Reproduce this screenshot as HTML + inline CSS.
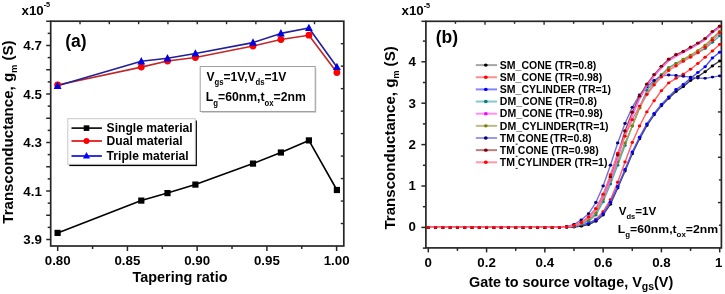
<!DOCTYPE html>
<html><head><meta charset="utf-8"><style>
html,body{margin:0;padding:0;background:#fff;width:725px;height:294px;overflow:hidden}
svg{display:block;filter:blur(0.3px)}
text{font-family:"Liberation Sans", sans-serif;font-weight:bold;fill:#000}
.tl{font-size:13.3px}
.ti{font-size:14.4px}
.tiy{font-size:15.1px}
.sub{font-size:9px}
.sup{font-size:7.3px}
.subx{font-size:10.5px}
.lab{font-size:17.5px}
.lg{font-size:12.1px}
.lgb{font-size:10.5px}
.an{font-size:13px}
.asub{font-size:8.3px}
.an2{font-size:11.6px}
.asub2{font-size:7.5px}
</style></head>
<body><svg width="725" height="294" viewBox="0 0 725 294">
<rect width="725" height="294" fill="#fff"/>
<rect x="50.7" y="21.2" width="293.1" height="224.8" fill="none" stroke="#262626" stroke-width="1.7"/>
<line x1="46.2" y1="239.50" x2="50.7" y2="239.50" stroke="#262626" stroke-width="1.5"/>
<line x1="47.7" y1="227.38" x2="50.7" y2="227.38" stroke="#262626" stroke-width="1.5"/>
<line x1="46.2" y1="215.25" x2="50.7" y2="215.25" stroke="#262626" stroke-width="1.5"/>
<line x1="47.7" y1="203.13" x2="50.7" y2="203.13" stroke="#262626" stroke-width="1.5"/>
<line x1="46.2" y1="191.00" x2="50.7" y2="191.00" stroke="#262626" stroke-width="1.5"/>
<line x1="47.7" y1="178.87" x2="50.7" y2="178.87" stroke="#262626" stroke-width="1.5"/>
<line x1="46.2" y1="166.75" x2="50.7" y2="166.75" stroke="#262626" stroke-width="1.5"/>
<line x1="47.7" y1="154.62" x2="50.7" y2="154.62" stroke="#262626" stroke-width="1.5"/>
<line x1="46.2" y1="142.50" x2="50.7" y2="142.50" stroke="#262626" stroke-width="1.5"/>
<line x1="47.7" y1="130.38" x2="50.7" y2="130.38" stroke="#262626" stroke-width="1.5"/>
<line x1="46.2" y1="118.25" x2="50.7" y2="118.25" stroke="#262626" stroke-width="1.5"/>
<line x1="47.7" y1="106.12" x2="50.7" y2="106.12" stroke="#262626" stroke-width="1.5"/>
<line x1="46.2" y1="94.00" x2="50.7" y2="94.00" stroke="#262626" stroke-width="1.5"/>
<line x1="47.7" y1="81.88" x2="50.7" y2="81.88" stroke="#262626" stroke-width="1.5"/>
<line x1="46.2" y1="69.75" x2="50.7" y2="69.75" stroke="#262626" stroke-width="1.5"/>
<line x1="47.7" y1="57.62" x2="50.7" y2="57.62" stroke="#262626" stroke-width="1.5"/>
<line x1="46.2" y1="45.50" x2="50.7" y2="45.50" stroke="#262626" stroke-width="1.5"/>
<line x1="47.7" y1="33.38" x2="50.7" y2="33.38" stroke="#262626" stroke-width="1.5"/>
<line x1="46.2" y1="21.25" x2="50.7" y2="21.25" stroke="#262626" stroke-width="1.5"/>
<line x1="57.70" y1="246.0" x2="57.70" y2="251.0" stroke="#262626" stroke-width="1.5"/>
<line x1="92.56" y1="246.0" x2="92.56" y2="249.0" stroke="#262626" stroke-width="1.5"/>
<line x1="127.43" y1="246.0" x2="127.43" y2="251.0" stroke="#262626" stroke-width="1.5"/>
<line x1="162.29" y1="246.0" x2="162.29" y2="249.0" stroke="#262626" stroke-width="1.5"/>
<line x1="197.15" y1="246.0" x2="197.15" y2="251.0" stroke="#262626" stroke-width="1.5"/>
<line x1="232.01" y1="246.0" x2="232.01" y2="249.0" stroke="#262626" stroke-width="1.5"/>
<line x1="266.88" y1="246.0" x2="266.88" y2="251.0" stroke="#262626" stroke-width="1.5"/>
<line x1="301.74" y1="246.0" x2="301.74" y2="249.0" stroke="#262626" stroke-width="1.5"/>
<line x1="336.60" y1="246.0" x2="336.60" y2="251.0" stroke="#262626" stroke-width="1.5"/>
<line x1="80.01" y1="21.2" x2="80.01" y2="24.2" stroke="#262626" stroke-width="1.4"/>
<line x1="109.32" y1="21.2" x2="109.32" y2="24.2" stroke="#262626" stroke-width="1.4"/>
<line x1="138.63" y1="21.2" x2="138.63" y2="24.2" stroke="#262626" stroke-width="1.4"/>
<line x1="167.94" y1="21.2" x2="167.94" y2="24.2" stroke="#262626" stroke-width="1.4"/>
<line x1="197.25" y1="21.2" x2="197.25" y2="24.2" stroke="#262626" stroke-width="1.4"/>
<line x1="226.56" y1="21.2" x2="226.56" y2="24.2" stroke="#262626" stroke-width="1.4"/>
<line x1="255.87" y1="21.2" x2="255.87" y2="24.2" stroke="#262626" stroke-width="1.4"/>
<line x1="285.18" y1="21.2" x2="285.18" y2="24.2" stroke="#262626" stroke-width="1.4"/>
<line x1="314.49" y1="21.2" x2="314.49" y2="24.2" stroke="#262626" stroke-width="1.4"/>
<line x1="340.8" y1="43.68" x2="343.8" y2="43.68" stroke="#262626" stroke-width="1.4"/>
<line x1="340.8" y1="66.16" x2="343.8" y2="66.16" stroke="#262626" stroke-width="1.4"/>
<line x1="340.8" y1="88.64" x2="343.8" y2="88.64" stroke="#262626" stroke-width="1.4"/>
<line x1="340.8" y1="111.12" x2="343.8" y2="111.12" stroke="#262626" stroke-width="1.4"/>
<line x1="340.8" y1="133.60" x2="343.8" y2="133.60" stroke="#262626" stroke-width="1.4"/>
<line x1="340.8" y1="156.08" x2="343.8" y2="156.08" stroke="#262626" stroke-width="1.4"/>
<line x1="340.8" y1="178.56" x2="343.8" y2="178.56" stroke="#262626" stroke-width="1.4"/>
<line x1="340.8" y1="201.04" x2="343.8" y2="201.04" stroke="#262626" stroke-width="1.4"/>
<line x1="340.8" y1="223.52" x2="343.8" y2="223.52" stroke="#262626" stroke-width="1.4"/>
<text x="41.8" y="244.10" text-anchor="end" class="tl">3.9</text>
<text x="41.8" y="195.60" text-anchor="end" class="tl">4.1</text>
<text x="41.8" y="147.10" text-anchor="end" class="tl">4.3</text>
<text x="41.8" y="98.60" text-anchor="end" class="tl">4.5</text>
<text x="41.8" y="50.10" text-anchor="end" class="tl">4.7</text>
<text x="57.70" y="264.5" text-anchor="middle" class="tl">0.80</text>
<text x="127.42" y="264.5" text-anchor="middle" class="tl">0.85</text>
<text x="197.15" y="264.5" text-anchor="middle" class="tl">0.90</text>
<text x="266.87" y="264.5" text-anchor="middle" class="tl">0.95</text>
<text x="336.60" y="264.5" text-anchor="middle" class="tl">1.00</text>
<text x="180" y="282" text-anchor="middle" class="ti">Tapering ratio</text>
<text transform="translate(12.5,132.1) rotate(-90)" text-anchor="middle" class="tiy">Transconductance, g<tspan class="sub" dy="4.5">m</tspan><tspan dy="-4.5"> (S)</tspan></text>
<text x="21.5" y="14.9" class="tl">x10<tspan class="sup" dy="-7.8">-5</tspan></text>
<text x="65.2" y="46.6" class="lab">(a)</text>
<polyline points="57.6,232.9 141.3,200.6 167.5,193.1 195.4,184.6 253.0,163.6 280.9,152.5 308.9,140.4 336.9,190.0" fill="none" stroke="#000" stroke-width="1.6" stroke-linejoin="round"/>
<polyline points="57.6,85.0 141.3,67.1 167.5,61.0 195.4,57.5 253.0,46.0 280.9,39.5 308.9,35.2 336.9,72.5" fill="none" stroke="#c02828" stroke-width="1.6" stroke-linejoin="round"/>
<polyline points="57.6,85.8 141.3,61.3 167.5,58.3 195.4,53.5 253.0,42.6 280.9,33.4 308.9,28.0 336.9,67.0" fill="none" stroke="#20209a" stroke-width="1.6" stroke-linejoin="round"/>
<rect x="54.50" y="229.80" width="6.2" height="6.2" fill="#000"/>
<rect x="138.20" y="197.50" width="6.2" height="6.2" fill="#000"/>
<rect x="164.40" y="190.00" width="6.2" height="6.2" fill="#000"/>
<rect x="192.30" y="181.50" width="6.2" height="6.2" fill="#000"/>
<rect x="249.90" y="160.50" width="6.2" height="6.2" fill="#000"/>
<rect x="277.80" y="149.40" width="6.2" height="6.2" fill="#000"/>
<rect x="305.80" y="137.30" width="6.2" height="6.2" fill="#000"/>
<rect x="333.80" y="186.90" width="6.2" height="6.2" fill="#000"/>
<circle cx="57.60" cy="85.00" r="3.4" fill="#f00"/>
<circle cx="141.30" cy="67.10" r="3.4" fill="#f00"/>
<circle cx="167.50" cy="61.00" r="3.4" fill="#f00"/>
<circle cx="195.40" cy="57.50" r="3.4" fill="#f00"/>
<circle cx="253.00" cy="46.00" r="3.4" fill="#f00"/>
<circle cx="280.90" cy="39.50" r="3.4" fill="#f00"/>
<circle cx="308.90" cy="35.20" r="3.4" fill="#f00"/>
<circle cx="336.90" cy="72.50" r="3.4" fill="#f00"/>
<polygon points="57.60,81.50 53.70,88.90 61.50,88.90" fill="#0000e0"/>
<polygon points="141.30,57.00 137.40,64.40 145.20,64.40" fill="#0000e0"/>
<polygon points="167.50,54.00 163.60,61.40 171.40,61.40" fill="#0000e0"/>
<polygon points="195.40,49.20 191.50,56.60 199.30,56.60" fill="#0000e0"/>
<polygon points="253.00,38.30 249.10,45.70 256.90,45.70" fill="#0000e0"/>
<polygon points="280.90,29.10 277.00,36.50 284.80,36.50" fill="#0000e0"/>
<polygon points="308.90,23.70 305.00,31.10 312.80,31.10" fill="#0000e0"/>
<polygon points="336.90,62.70 333.00,70.10 340.80,70.10" fill="#0000e0"/>
<rect x="69.3" y="120.5" width="127.6" height="45.6" fill="#000"/>
<rect x="67.8" y="118.7" width="127.5" height="45.6" fill="#fff" stroke="#c8c8c8" stroke-width="1"/>
<line x1="71.5" y1="128.1" x2="101.9" y2="128.1" stroke="#000" stroke-width="1.6"/>
<rect x="83.7" y="125.3" width="5.6" height="5.6" fill="#000"/>
<text x="106.6" y="132.29999999999998" class="lg">Single material</text>
<line x1="71.5" y1="141.0" x2="101.9" y2="141.0" stroke="#e00000" stroke-width="1.6"/>
<circle cx="86.5" cy="141.0" r="3" fill="#f00"/>
<text x="106.6" y="145.2" class="lg">Dual material</text>
<line x1="71.5" y1="156.0" x2="101.9" y2="156.0" stroke="#0000e0" stroke-width="1.6"/>
<polygon points="86.5,152.0 83,158.5 90,158.5" fill="#00f"/>
<text x="106.6" y="160.2" class="lg">Triple material</text>
<rect x="201.3" y="67.8" width="115" height="45" fill="#c8c8c8"/>
<rect x="200.2" y="66.5" width="115" height="45" fill="#fff" stroke="#a0a0a0" stroke-width="1"/>
<text x="206.4" y="80.9" class="an" textLength="80" lengthAdjust="spacingAndGlyphs">V<tspan class="asub" dy="4.5">gs</tspan><tspan dy="-4.5">=1V,V</tspan><tspan class="asub" dy="4.5">ds</tspan><tspan dy="-4.5">=1V</tspan></text>
<text x="205.8" y="101.2" class="an" textLength="100" lengthAdjust="spacingAndGlyphs">L<tspan class="asub" dy="4.5">g</tspan><tspan dy="-4.5">=60nm,t</tspan><tspan class="asub" dy="4.5">ox</tspan><tspan dy="-4.5">=2nm</tspan></text>
<rect x="425.9" y="21.3" width="295.5" height="226.6" fill="none" stroke="#262626" stroke-width="1.7"/>
<line x1="422.9" y1="248.10" x2="425.9" y2="248.10" stroke="#262626" stroke-width="1.5"/>
<line x1="421.4" y1="227.40" x2="425.9" y2="227.40" stroke="#262626" stroke-width="1.5"/>
<line x1="422.9" y1="206.70" x2="425.9" y2="206.70" stroke="#262626" stroke-width="1.5"/>
<line x1="421.4" y1="186.00" x2="425.9" y2="186.00" stroke="#262626" stroke-width="1.5"/>
<line x1="422.9" y1="165.30" x2="425.9" y2="165.30" stroke="#262626" stroke-width="1.5"/>
<line x1="421.4" y1="144.60" x2="425.9" y2="144.60" stroke="#262626" stroke-width="1.5"/>
<line x1="422.9" y1="123.90" x2="425.9" y2="123.90" stroke="#262626" stroke-width="1.5"/>
<line x1="421.4" y1="103.20" x2="425.9" y2="103.20" stroke="#262626" stroke-width="1.5"/>
<line x1="422.9" y1="82.50" x2="425.9" y2="82.50" stroke="#262626" stroke-width="1.5"/>
<line x1="421.4" y1="61.80" x2="425.9" y2="61.80" stroke="#262626" stroke-width="1.5"/>
<line x1="422.9" y1="41.10" x2="425.9" y2="41.10" stroke="#262626" stroke-width="1.5"/>
<line x1="421.4" y1="21.30" x2="425.9" y2="21.30" stroke="#262626" stroke-width="1.5"/>
<line x1="428.30" y1="247.9" x2="428.30" y2="252.4" stroke="#262626" stroke-width="1.5"/>
<line x1="457.44" y1="247.9" x2="457.44" y2="250.9" stroke="#262626" stroke-width="1.5"/>
<line x1="486.58" y1="247.9" x2="486.58" y2="252.4" stroke="#262626" stroke-width="1.5"/>
<line x1="515.72" y1="247.9" x2="515.72" y2="250.9" stroke="#262626" stroke-width="1.5"/>
<line x1="544.86" y1="247.9" x2="544.86" y2="252.4" stroke="#262626" stroke-width="1.5"/>
<line x1="574.00" y1="247.9" x2="574.00" y2="250.9" stroke="#262626" stroke-width="1.5"/>
<line x1="603.14" y1="247.9" x2="603.14" y2="252.4" stroke="#262626" stroke-width="1.5"/>
<line x1="632.28" y1="247.9" x2="632.28" y2="250.9" stroke="#262626" stroke-width="1.5"/>
<line x1="661.42" y1="247.9" x2="661.42" y2="252.4" stroke="#262626" stroke-width="1.5"/>
<line x1="690.56" y1="247.9" x2="690.56" y2="250.9" stroke="#262626" stroke-width="1.5"/>
<line x1="719.70" y1="247.9" x2="719.70" y2="252.4" stroke="#262626" stroke-width="1.5"/>
<line x1="455.45" y1="21.3" x2="455.45" y2="23.8" stroke="#262626" stroke-width="1.4"/>
<line x1="485.00" y1="21.3" x2="485.00" y2="24.8" stroke="#262626" stroke-width="1.4"/>
<line x1="514.55" y1="21.3" x2="514.55" y2="23.8" stroke="#262626" stroke-width="1.4"/>
<line x1="544.10" y1="21.3" x2="544.10" y2="24.8" stroke="#262626" stroke-width="1.4"/>
<line x1="573.65" y1="21.3" x2="573.65" y2="23.8" stroke="#262626" stroke-width="1.4"/>
<line x1="603.20" y1="21.3" x2="603.20" y2="24.8" stroke="#262626" stroke-width="1.4"/>
<line x1="632.75" y1="21.3" x2="632.75" y2="23.8" stroke="#262626" stroke-width="1.4"/>
<line x1="662.30" y1="21.3" x2="662.30" y2="24.8" stroke="#262626" stroke-width="1.4"/>
<line x1="691.85" y1="21.3" x2="691.85" y2="23.8" stroke="#262626" stroke-width="1.4"/>
<line x1="718.9" y1="43.96" x2="721.4" y2="43.96" stroke="#262626" stroke-width="1.4"/>
<line x1="717.9" y1="66.62" x2="721.4" y2="66.62" stroke="#262626" stroke-width="1.4"/>
<line x1="718.9" y1="89.28" x2="721.4" y2="89.28" stroke="#262626" stroke-width="1.4"/>
<line x1="717.9" y1="111.94" x2="721.4" y2="111.94" stroke="#262626" stroke-width="1.4"/>
<line x1="718.9" y1="134.60" x2="721.4" y2="134.60" stroke="#262626" stroke-width="1.4"/>
<line x1="717.9" y1="157.26" x2="721.4" y2="157.26" stroke="#262626" stroke-width="1.4"/>
<line x1="718.9" y1="179.92" x2="721.4" y2="179.92" stroke="#262626" stroke-width="1.4"/>
<line x1="717.9" y1="202.58" x2="721.4" y2="202.58" stroke="#262626" stroke-width="1.4"/>
<line x1="718.9" y1="225.24" x2="721.4" y2="225.24" stroke="#262626" stroke-width="1.4"/>
<text x="415.8" y="231.20" text-anchor="end" class="tl">0</text>
<text x="415.8" y="190.00" text-anchor="end" class="tl">1</text>
<text x="415.8" y="148.80" text-anchor="end" class="tl">2</text>
<text x="415.8" y="107.60" text-anchor="end" class="tl">3</text>
<text x="415.8" y="66.40" text-anchor="end" class="tl">4</text>
<text x="428.30" y="266.6" text-anchor="middle" class="tl">0</text>
<text x="486.58" y="266.6" text-anchor="middle" class="tl">0.2</text>
<text x="544.86" y="266.6" text-anchor="middle" class="tl">0.4</text>
<text x="603.14" y="266.6" text-anchor="middle" class="tl">0.6</text>
<text x="661.42" y="266.6" text-anchor="middle" class="tl">0.8</text>
<text x="718.70" y="266.6" text-anchor="middle" class="tl">1</text>
<text x="469" y="286.6" class="ti">Gate to source voltage, V<tspan class="subx" dy="3.5">gs</tspan><tspan dy="-3.5">(V)</tspan></text>
<text transform="translate(394.5,137.9) rotate(-90)" text-anchor="middle" class="tiy">Transconductance, g<tspan class="sub" dy="4.5">m</tspan><tspan dy="-4.5"> (S)</tspan></text>
<text x="401.5" y="15.3" class="tl">x10<tspan class="sup" dy="-7.8">-5</tspan></text>
<text x="435.8" y="43" class="lab">(b)</text>
<g><polyline points="428.30,227.40 435.59,227.40 442.87,227.40 450.16,227.40 457.44,227.40 464.73,227.40 472.01,227.40 479.30,227.40 486.58,227.40 493.87,227.40 501.15,227.40 508.44,227.40 515.72,227.40 523.00,227.40 530.29,227.40 537.58,227.40 544.86,227.40 552.14,227.40 559.43,227.40 566.72,227.14 574.00,226.57 581.28,225.71 588.57,224.09 595.86,219.12 603.14,211.67 610.42,199.66 617.71,182.27 625.00,161.99 632.28,142.53 639.57,125.97 646.85,111.89 654.13,100.72 661.42,90.78 668.70,82.91 675.99,78.36 683.27,74.22 690.56,69.25 697.85,63.46 705.13,57.25 712.41,51.04 719.70,44.41" fill="none" stroke="#ff6060" stroke-width="1.4" stroke-linejoin="round"/><ellipse cx="428.30" cy="227.40" rx="1.75" ry="1.45" fill="#ff0000"/><ellipse cx="435.59" cy="227.40" rx="1.75" ry="1.45" fill="#ff0000"/><ellipse cx="442.87" cy="227.40" rx="1.75" ry="1.45" fill="#ff0000"/><ellipse cx="450.16" cy="227.40" rx="1.75" ry="1.45" fill="#ff0000"/><ellipse cx="457.44" cy="227.40" rx="1.75" ry="1.45" fill="#ff0000"/><ellipse cx="464.73" cy="227.40" rx="1.75" ry="1.45" fill="#ff0000"/><ellipse cx="472.01" cy="227.40" rx="1.75" ry="1.45" fill="#ff0000"/><ellipse cx="479.30" cy="227.40" rx="1.75" ry="1.45" fill="#ff0000"/><ellipse cx="486.58" cy="227.40" rx="1.75" ry="1.45" fill="#ff0000"/><ellipse cx="493.87" cy="227.40" rx="1.75" ry="1.45" fill="#ff0000"/><ellipse cx="501.15" cy="227.40" rx="1.75" ry="1.45" fill="#ff0000"/><ellipse cx="508.44" cy="227.40" rx="1.75" ry="1.45" fill="#ff0000"/><ellipse cx="515.72" cy="227.40" rx="1.75" ry="1.45" fill="#ff0000"/><ellipse cx="523.00" cy="227.40" rx="1.75" ry="1.45" fill="#ff0000"/><ellipse cx="530.29" cy="227.40" rx="1.75" ry="1.45" fill="#ff0000"/><ellipse cx="537.58" cy="227.40" rx="1.75" ry="1.45" fill="#ff0000"/><ellipse cx="544.86" cy="227.40" rx="1.75" ry="1.45" fill="#ff0000"/><ellipse cx="552.14" cy="227.40" rx="1.75" ry="1.45" fill="#ff0000"/><ellipse cx="559.43" cy="227.40" rx="1.75" ry="1.45" fill="#ff0000"/><ellipse cx="566.72" cy="227.14" rx="1.75" ry="1.45" fill="#ff0000"/><ellipse cx="574.00" cy="226.57" rx="1.75" ry="1.45" fill="#ff0000"/><ellipse cx="581.28" cy="225.71" rx="1.75" ry="1.45" fill="#ff0000"/><ellipse cx="588.57" cy="224.09" rx="1.75" ry="1.45" fill="#ff0000"/><ellipse cx="595.86" cy="219.12" rx="1.75" ry="1.45" fill="#ff0000"/><ellipse cx="603.14" cy="211.67" rx="1.75" ry="1.45" fill="#ff0000"/><ellipse cx="610.42" cy="199.66" rx="1.75" ry="1.45" fill="#ff0000"/><ellipse cx="617.71" cy="182.27" rx="1.75" ry="1.45" fill="#ff0000"/><ellipse cx="625.00" cy="161.99" rx="1.75" ry="1.45" fill="#ff0000"/><ellipse cx="632.28" cy="142.53" rx="1.75" ry="1.45" fill="#ff0000"/><ellipse cx="639.57" cy="125.97" rx="1.75" ry="1.45" fill="#ff0000"/><ellipse cx="646.85" cy="111.89" rx="1.75" ry="1.45" fill="#ff0000"/><ellipse cx="654.13" cy="100.72" rx="1.75" ry="1.45" fill="#ff0000"/><ellipse cx="661.42" cy="90.78" rx="1.75" ry="1.45" fill="#ff0000"/><ellipse cx="668.70" cy="82.91" rx="1.75" ry="1.45" fill="#ff0000"/><ellipse cx="675.99" cy="78.36" rx="1.75" ry="1.45" fill="#ff0000"/><ellipse cx="683.27" cy="74.22" rx="1.75" ry="1.45" fill="#ff0000"/><ellipse cx="690.56" cy="69.25" rx="1.75" ry="1.45" fill="#ff0000"/><ellipse cx="697.85" cy="63.46" rx="1.75" ry="1.45" fill="#ff0000"/><ellipse cx="705.13" cy="57.25" rx="1.75" ry="1.45" fill="#ff0000"/><ellipse cx="712.41" cy="51.04" rx="1.75" ry="1.45" fill="#ff0000"/><ellipse cx="719.70" cy="44.41" rx="1.75" ry="1.45" fill="#ff0000"/><polyline points="428.30,227.40 435.59,227.40 442.87,227.40 450.16,227.40 457.44,227.40 464.73,227.40 472.01,227.40 479.30,227.40 486.58,227.40 493.87,227.40 501.15,227.40 508.44,227.40 515.72,227.40 523.00,227.40 530.29,227.40 537.58,227.40 544.86,227.40 552.14,227.40 559.43,227.40 566.72,227.28 574.00,226.99 581.28,226.16 588.57,224.50 595.86,221.19 603.14,214.98 610.42,204.22 617.71,188.07 625.00,171.10 632.28,153.71 639.57,138.80 646.85,125.56 654.13,114.79 661.42,105.68 668.70,98.23 675.99,91.61 683.27,86.64 690.56,80.43 697.85,76.70 705.13,71.74 712.41,65.94 719.70,60.97" fill="none" stroke="#404040" stroke-width="1.4" stroke-linejoin="round"/><ellipse cx="428.30" cy="227.40" rx="1.75" ry="1.45" fill="#000000"/><ellipse cx="435.59" cy="227.40" rx="1.75" ry="1.45" fill="#000000"/><ellipse cx="442.87" cy="227.40" rx="1.75" ry="1.45" fill="#000000"/><ellipse cx="450.16" cy="227.40" rx="1.75" ry="1.45" fill="#000000"/><ellipse cx="457.44" cy="227.40" rx="1.75" ry="1.45" fill="#000000"/><ellipse cx="464.73" cy="227.40" rx="1.75" ry="1.45" fill="#000000"/><ellipse cx="472.01" cy="227.40" rx="1.75" ry="1.45" fill="#000000"/><ellipse cx="479.30" cy="227.40" rx="1.75" ry="1.45" fill="#000000"/><ellipse cx="486.58" cy="227.40" rx="1.75" ry="1.45" fill="#000000"/><ellipse cx="493.87" cy="227.40" rx="1.75" ry="1.45" fill="#000000"/><ellipse cx="501.15" cy="227.40" rx="1.75" ry="1.45" fill="#000000"/><ellipse cx="508.44" cy="227.40" rx="1.75" ry="1.45" fill="#000000"/><ellipse cx="515.72" cy="227.40" rx="1.75" ry="1.45" fill="#000000"/><ellipse cx="523.00" cy="227.40" rx="1.75" ry="1.45" fill="#000000"/><ellipse cx="530.29" cy="227.40" rx="1.75" ry="1.45" fill="#000000"/><ellipse cx="537.58" cy="227.40" rx="1.75" ry="1.45" fill="#000000"/><ellipse cx="544.86" cy="227.40" rx="1.75" ry="1.45" fill="#000000"/><ellipse cx="552.14" cy="227.40" rx="1.75" ry="1.45" fill="#000000"/><ellipse cx="559.43" cy="227.40" rx="1.75" ry="1.45" fill="#000000"/><ellipse cx="566.72" cy="227.28" rx="1.75" ry="1.45" fill="#000000"/><ellipse cx="574.00" cy="226.99" rx="1.75" ry="1.45" fill="#000000"/><ellipse cx="581.28" cy="226.16" rx="1.75" ry="1.45" fill="#000000"/><ellipse cx="588.57" cy="224.50" rx="1.75" ry="1.45" fill="#000000"/><ellipse cx="595.86" cy="221.19" rx="1.75" ry="1.45" fill="#000000"/><ellipse cx="603.14" cy="214.98" rx="1.75" ry="1.45" fill="#000000"/><ellipse cx="610.42" cy="204.22" rx="1.75" ry="1.45" fill="#000000"/><ellipse cx="617.71" cy="188.07" rx="1.75" ry="1.45" fill="#000000"/><ellipse cx="625.00" cy="171.10" rx="1.75" ry="1.45" fill="#000000"/><ellipse cx="632.28" cy="153.71" rx="1.75" ry="1.45" fill="#000000"/><ellipse cx="639.57" cy="138.80" rx="1.75" ry="1.45" fill="#000000"/><ellipse cx="646.85" cy="125.56" rx="1.75" ry="1.45" fill="#000000"/><ellipse cx="654.13" cy="114.79" rx="1.75" ry="1.45" fill="#000000"/><ellipse cx="661.42" cy="105.68" rx="1.75" ry="1.45" fill="#000000"/><ellipse cx="668.70" cy="98.23" rx="1.75" ry="1.45" fill="#000000"/><ellipse cx="675.99" cy="91.61" rx="1.75" ry="1.45" fill="#000000"/><ellipse cx="683.27" cy="86.64" rx="1.75" ry="1.45" fill="#000000"/><ellipse cx="690.56" cy="80.43" rx="1.75" ry="1.45" fill="#000000"/><ellipse cx="697.85" cy="76.70" rx="1.75" ry="1.45" fill="#000000"/><ellipse cx="705.13" cy="71.74" rx="1.75" ry="1.45" fill="#000000"/><ellipse cx="712.41" cy="65.94" rx="1.75" ry="1.45" fill="#000000"/><ellipse cx="719.70" cy="60.97" rx="1.75" ry="1.45" fill="#000000"/><polyline points="428.30,227.40 435.59,227.40 442.87,227.40 450.16,227.40 457.44,227.40 464.73,227.40 472.01,227.40 479.30,227.40 486.58,227.40 493.87,227.40 501.15,227.40 508.44,227.40 515.72,227.40 523.00,227.40 530.29,227.40 537.58,227.40 544.86,227.40 552.14,227.40 559.43,227.40 566.72,227.16 574.00,226.57 581.28,224.92 588.57,223.26 595.86,219.95 603.14,213.74 610.42,202.15 617.71,186.41 625.00,169.44 632.28,152.05 639.57,137.15 646.85,123.90 654.13,113.55 661.42,104.44 668.70,96.99 675.99,89.54 683.27,84.57 690.56,78.36 697.85,72.56 705.13,66.77 712.41,58.07 719.70,52.28" fill="none" stroke="#5050ff" stroke-width="1.4" stroke-linejoin="round"/><ellipse cx="428.30" cy="227.40" rx="1.75" ry="1.45" fill="#0000ff"/><ellipse cx="435.59" cy="227.40" rx="1.75" ry="1.45" fill="#0000ff"/><ellipse cx="442.87" cy="227.40" rx="1.75" ry="1.45" fill="#0000ff"/><ellipse cx="450.16" cy="227.40" rx="1.75" ry="1.45" fill="#0000ff"/><ellipse cx="457.44" cy="227.40" rx="1.75" ry="1.45" fill="#0000ff"/><ellipse cx="464.73" cy="227.40" rx="1.75" ry="1.45" fill="#0000ff"/><ellipse cx="472.01" cy="227.40" rx="1.75" ry="1.45" fill="#0000ff"/><ellipse cx="479.30" cy="227.40" rx="1.75" ry="1.45" fill="#0000ff"/><ellipse cx="486.58" cy="227.40" rx="1.75" ry="1.45" fill="#0000ff"/><ellipse cx="493.87" cy="227.40" rx="1.75" ry="1.45" fill="#0000ff"/><ellipse cx="501.15" cy="227.40" rx="1.75" ry="1.45" fill="#0000ff"/><ellipse cx="508.44" cy="227.40" rx="1.75" ry="1.45" fill="#0000ff"/><ellipse cx="515.72" cy="227.40" rx="1.75" ry="1.45" fill="#0000ff"/><ellipse cx="523.00" cy="227.40" rx="1.75" ry="1.45" fill="#0000ff"/><ellipse cx="530.29" cy="227.40" rx="1.75" ry="1.45" fill="#0000ff"/><ellipse cx="537.58" cy="227.40" rx="1.75" ry="1.45" fill="#0000ff"/><ellipse cx="544.86" cy="227.40" rx="1.75" ry="1.45" fill="#0000ff"/><ellipse cx="552.14" cy="227.40" rx="1.75" ry="1.45" fill="#0000ff"/><ellipse cx="559.43" cy="227.40" rx="1.75" ry="1.45" fill="#0000ff"/><ellipse cx="566.72" cy="227.16" rx="1.75" ry="1.45" fill="#0000ff"/><ellipse cx="574.00" cy="226.57" rx="1.75" ry="1.45" fill="#0000ff"/><ellipse cx="581.28" cy="224.92" rx="1.75" ry="1.45" fill="#0000ff"/><ellipse cx="588.57" cy="223.26" rx="1.75" ry="1.45" fill="#0000ff"/><ellipse cx="595.86" cy="219.95" rx="1.75" ry="1.45" fill="#0000ff"/><ellipse cx="603.14" cy="213.74" rx="1.75" ry="1.45" fill="#0000ff"/><ellipse cx="610.42" cy="202.15" rx="1.75" ry="1.45" fill="#0000ff"/><ellipse cx="617.71" cy="186.41" rx="1.75" ry="1.45" fill="#0000ff"/><ellipse cx="625.00" cy="169.44" rx="1.75" ry="1.45" fill="#0000ff"/><ellipse cx="632.28" cy="152.05" rx="1.75" ry="1.45" fill="#0000ff"/><ellipse cx="639.57" cy="137.15" rx="1.75" ry="1.45" fill="#0000ff"/><ellipse cx="646.85" cy="123.90" rx="1.75" ry="1.45" fill="#0000ff"/><ellipse cx="654.13" cy="113.55" rx="1.75" ry="1.45" fill="#0000ff"/><ellipse cx="661.42" cy="104.44" rx="1.75" ry="1.45" fill="#0000ff"/><ellipse cx="668.70" cy="96.99" rx="1.75" ry="1.45" fill="#0000ff"/><ellipse cx="675.99" cy="89.54" rx="1.75" ry="1.45" fill="#0000ff"/><ellipse cx="683.27" cy="84.57" rx="1.75" ry="1.45" fill="#0000ff"/><ellipse cx="690.56" cy="78.36" rx="1.75" ry="1.45" fill="#0000ff"/><ellipse cx="697.85" cy="72.56" rx="1.75" ry="1.45" fill="#0000ff"/><ellipse cx="705.13" cy="66.77" rx="1.75" ry="1.45" fill="#0000ff"/><ellipse cx="712.41" cy="58.07" rx="1.75" ry="1.45" fill="#0000ff"/><ellipse cx="719.70" cy="52.28" rx="1.75" ry="1.45" fill="#0000ff"/><polyline points="428.30,227.40 435.59,227.40 442.87,227.40 450.16,227.40 457.44,227.40 464.73,227.40 472.01,227.40 479.30,227.40 486.58,227.40 493.87,227.40 501.15,227.40 508.44,227.40 515.72,227.40 523.00,227.40 530.29,227.40 537.58,227.40 544.86,227.40 552.14,227.40 559.43,227.40 566.72,227.03 574.00,226.16 581.28,224.36 588.57,221.19 595.86,214.98 603.14,201.73 610.42,183.93 617.71,165.30 625.00,145.43 632.28,125.97 639.57,107.34 646.85,90.37 654.13,81.67 661.42,74.63 668.70,67.60 675.99,63.46 683.27,59.73 690.56,56.42 697.85,52.69 705.13,48.55 712.41,42.34 719.70,35.72" fill="none" stroke="#50b0b0" stroke-width="1.4" stroke-linejoin="round"/><ellipse cx="428.30" cy="227.40" rx="1.75" ry="1.45" fill="#008080"/><ellipse cx="435.59" cy="227.40" rx="1.75" ry="1.45" fill="#008080"/><ellipse cx="442.87" cy="227.40" rx="1.75" ry="1.45" fill="#008080"/><ellipse cx="450.16" cy="227.40" rx="1.75" ry="1.45" fill="#008080"/><ellipse cx="457.44" cy="227.40" rx="1.75" ry="1.45" fill="#008080"/><ellipse cx="464.73" cy="227.40" rx="1.75" ry="1.45" fill="#008080"/><ellipse cx="472.01" cy="227.40" rx="1.75" ry="1.45" fill="#008080"/><ellipse cx="479.30" cy="227.40" rx="1.75" ry="1.45" fill="#008080"/><ellipse cx="486.58" cy="227.40" rx="1.75" ry="1.45" fill="#008080"/><ellipse cx="493.87" cy="227.40" rx="1.75" ry="1.45" fill="#008080"/><ellipse cx="501.15" cy="227.40" rx="1.75" ry="1.45" fill="#008080"/><ellipse cx="508.44" cy="227.40" rx="1.75" ry="1.45" fill="#008080"/><ellipse cx="515.72" cy="227.40" rx="1.75" ry="1.45" fill="#008080"/><ellipse cx="523.00" cy="227.40" rx="1.75" ry="1.45" fill="#008080"/><ellipse cx="530.29" cy="227.40" rx="1.75" ry="1.45" fill="#008080"/><ellipse cx="537.58" cy="227.40" rx="1.75" ry="1.45" fill="#008080"/><ellipse cx="544.86" cy="227.40" rx="1.75" ry="1.45" fill="#008080"/><ellipse cx="552.14" cy="227.40" rx="1.75" ry="1.45" fill="#008080"/><ellipse cx="559.43" cy="227.40" rx="1.75" ry="1.45" fill="#008080"/><ellipse cx="566.72" cy="227.03" rx="1.75" ry="1.45" fill="#008080"/><ellipse cx="574.00" cy="226.16" rx="1.75" ry="1.45" fill="#008080"/><ellipse cx="581.28" cy="224.36" rx="1.75" ry="1.45" fill="#008080"/><ellipse cx="588.57" cy="221.19" rx="1.75" ry="1.45" fill="#008080"/><ellipse cx="595.86" cy="214.98" rx="1.75" ry="1.45" fill="#008080"/><ellipse cx="603.14" cy="201.73" rx="1.75" ry="1.45" fill="#008080"/><ellipse cx="610.42" cy="183.93" rx="1.75" ry="1.45" fill="#008080"/><ellipse cx="617.71" cy="165.30" rx="1.75" ry="1.45" fill="#008080"/><ellipse cx="625.00" cy="145.43" rx="1.75" ry="1.45" fill="#008080"/><ellipse cx="632.28" cy="125.97" rx="1.75" ry="1.45" fill="#008080"/><ellipse cx="639.57" cy="107.34" rx="1.75" ry="1.45" fill="#008080"/><ellipse cx="646.85" cy="90.37" rx="1.75" ry="1.45" fill="#008080"/><ellipse cx="654.13" cy="81.67" rx="1.75" ry="1.45" fill="#008080"/><ellipse cx="661.42" cy="74.63" rx="1.75" ry="1.45" fill="#008080"/><ellipse cx="668.70" cy="67.60" rx="1.75" ry="1.45" fill="#008080"/><ellipse cx="675.99" cy="63.46" rx="1.75" ry="1.45" fill="#008080"/><ellipse cx="683.27" cy="59.73" rx="1.75" ry="1.45" fill="#008080"/><ellipse cx="690.56" cy="56.42" rx="1.75" ry="1.45" fill="#008080"/><ellipse cx="697.85" cy="52.69" rx="1.75" ry="1.45" fill="#008080"/><ellipse cx="705.13" cy="48.55" rx="1.75" ry="1.45" fill="#008080"/><ellipse cx="712.41" cy="42.34" rx="1.75" ry="1.45" fill="#008080"/><ellipse cx="719.70" cy="35.72" rx="1.75" ry="1.45" fill="#008080"/><polyline points="428.30,227.40 435.59,227.40 442.87,227.40 450.16,227.40 457.44,227.40 464.73,227.40 472.01,227.40 479.30,227.40 486.58,227.40 493.87,227.40 501.15,227.40 508.44,227.40 515.72,227.40 523.00,227.40 530.29,227.40 537.58,227.40 544.86,227.40 552.14,227.40 559.43,227.40 566.72,227.04 574.00,226.16 581.28,223.92 588.57,219.95 595.86,212.91 603.14,199.25 610.42,180.20 617.71,161.99 625.00,142.94 632.28,125.97 639.57,108.17 646.85,94.09 654.13,83.33 661.42,75.05 668.70,68.42 675.99,63.87 683.27,59.32 690.56,55.18 697.85,50.62 705.13,45.24 712.41,38.20 719.70,31.16" fill="none" stroke="#a0a050" stroke-width="1.4" stroke-linejoin="round"/><ellipse cx="428.30" cy="227.40" rx="1.75" ry="1.45" fill="#808000"/><ellipse cx="435.59" cy="227.40" rx="1.75" ry="1.45" fill="#808000"/><ellipse cx="442.87" cy="227.40" rx="1.75" ry="1.45" fill="#808000"/><ellipse cx="450.16" cy="227.40" rx="1.75" ry="1.45" fill="#808000"/><ellipse cx="457.44" cy="227.40" rx="1.75" ry="1.45" fill="#808000"/><ellipse cx="464.73" cy="227.40" rx="1.75" ry="1.45" fill="#808000"/><ellipse cx="472.01" cy="227.40" rx="1.75" ry="1.45" fill="#808000"/><ellipse cx="479.30" cy="227.40" rx="1.75" ry="1.45" fill="#808000"/><ellipse cx="486.58" cy="227.40" rx="1.75" ry="1.45" fill="#808000"/><ellipse cx="493.87" cy="227.40" rx="1.75" ry="1.45" fill="#808000"/><ellipse cx="501.15" cy="227.40" rx="1.75" ry="1.45" fill="#808000"/><ellipse cx="508.44" cy="227.40" rx="1.75" ry="1.45" fill="#808000"/><ellipse cx="515.72" cy="227.40" rx="1.75" ry="1.45" fill="#808000"/><ellipse cx="523.00" cy="227.40" rx="1.75" ry="1.45" fill="#808000"/><ellipse cx="530.29" cy="227.40" rx="1.75" ry="1.45" fill="#808000"/><ellipse cx="537.58" cy="227.40" rx="1.75" ry="1.45" fill="#808000"/><ellipse cx="544.86" cy="227.40" rx="1.75" ry="1.45" fill="#808000"/><ellipse cx="552.14" cy="227.40" rx="1.75" ry="1.45" fill="#808000"/><ellipse cx="559.43" cy="227.40" rx="1.75" ry="1.45" fill="#808000"/><ellipse cx="566.72" cy="227.04" rx="1.75" ry="1.45" fill="#808000"/><ellipse cx="574.00" cy="226.16" rx="1.75" ry="1.45" fill="#808000"/><ellipse cx="581.28" cy="223.92" rx="1.75" ry="1.45" fill="#808000"/><ellipse cx="588.57" cy="219.95" rx="1.75" ry="1.45" fill="#808000"/><ellipse cx="595.86" cy="212.91" rx="1.75" ry="1.45" fill="#808000"/><ellipse cx="603.14" cy="199.25" rx="1.75" ry="1.45" fill="#808000"/><ellipse cx="610.42" cy="180.20" rx="1.75" ry="1.45" fill="#808000"/><ellipse cx="617.71" cy="161.99" rx="1.75" ry="1.45" fill="#808000"/><ellipse cx="625.00" cy="142.94" rx="1.75" ry="1.45" fill="#808000"/><ellipse cx="632.28" cy="125.97" rx="1.75" ry="1.45" fill="#808000"/><ellipse cx="639.57" cy="108.17" rx="1.75" ry="1.45" fill="#808000"/><ellipse cx="646.85" cy="94.09" rx="1.75" ry="1.45" fill="#808000"/><ellipse cx="654.13" cy="83.33" rx="1.75" ry="1.45" fill="#808000"/><ellipse cx="661.42" cy="75.05" rx="1.75" ry="1.45" fill="#808000"/><ellipse cx="668.70" cy="68.42" rx="1.75" ry="1.45" fill="#808000"/><ellipse cx="675.99" cy="63.87" rx="1.75" ry="1.45" fill="#808000"/><ellipse cx="683.27" cy="59.32" rx="1.75" ry="1.45" fill="#808000"/><ellipse cx="690.56" cy="55.18" rx="1.75" ry="1.45" fill="#808000"/><ellipse cx="697.85" cy="50.62" rx="1.75" ry="1.45" fill="#808000"/><ellipse cx="705.13" cy="45.24" rx="1.75" ry="1.45" fill="#808000"/><ellipse cx="712.41" cy="38.20" rx="1.75" ry="1.45" fill="#808000"/><ellipse cx="719.70" cy="31.16" rx="1.75" ry="1.45" fill="#808000"/><polyline points="428.30,227.40 435.59,227.40 442.87,227.40 450.16,227.40 457.44,227.40 464.73,227.40 472.01,227.40 479.30,227.40 486.58,227.40 493.87,227.40 501.15,227.40 508.44,227.40 515.72,227.40 523.00,227.40 530.29,227.40 537.58,227.40 544.86,227.40 552.14,227.40 559.43,227.40 566.72,226.57 574.00,224.50 581.28,219.95 588.57,213.74 595.86,202.56 603.14,186.00 610.42,165.30 617.71,142.94 625.00,123.49 632.28,107.34 639.57,94.92 646.85,87.05 654.13,80.43 661.42,75.88 668.70,75.05 675.99,75.46 683.27,76.29 690.56,77.12 697.85,77.95 705.13,78.36 712.41,77.12 719.70,75.88" fill="none" stroke="#7070e0" stroke-width="1.4" stroke-linejoin="round"/><ellipse cx="428.30" cy="227.40" rx="1.75" ry="1.45" fill="#000080"/><ellipse cx="435.59" cy="227.40" rx="1.75" ry="1.45" fill="#000080"/><ellipse cx="442.87" cy="227.40" rx="1.75" ry="1.45" fill="#000080"/><ellipse cx="450.16" cy="227.40" rx="1.75" ry="1.45" fill="#000080"/><ellipse cx="457.44" cy="227.40" rx="1.75" ry="1.45" fill="#000080"/><ellipse cx="464.73" cy="227.40" rx="1.75" ry="1.45" fill="#000080"/><ellipse cx="472.01" cy="227.40" rx="1.75" ry="1.45" fill="#000080"/><ellipse cx="479.30" cy="227.40" rx="1.75" ry="1.45" fill="#000080"/><ellipse cx="486.58" cy="227.40" rx="1.75" ry="1.45" fill="#000080"/><ellipse cx="493.87" cy="227.40" rx="1.75" ry="1.45" fill="#000080"/><ellipse cx="501.15" cy="227.40" rx="1.75" ry="1.45" fill="#000080"/><ellipse cx="508.44" cy="227.40" rx="1.75" ry="1.45" fill="#000080"/><ellipse cx="515.72" cy="227.40" rx="1.75" ry="1.45" fill="#000080"/><ellipse cx="523.00" cy="227.40" rx="1.75" ry="1.45" fill="#000080"/><ellipse cx="530.29" cy="227.40" rx="1.75" ry="1.45" fill="#000080"/><ellipse cx="537.58" cy="227.40" rx="1.75" ry="1.45" fill="#000080"/><ellipse cx="544.86" cy="227.40" rx="1.75" ry="1.45" fill="#000080"/><ellipse cx="552.14" cy="227.40" rx="1.75" ry="1.45" fill="#000080"/><ellipse cx="559.43" cy="227.40" rx="1.75" ry="1.45" fill="#000080"/><ellipse cx="566.72" cy="226.57" rx="1.75" ry="1.45" fill="#000080"/><ellipse cx="574.00" cy="224.50" rx="1.75" ry="1.45" fill="#000080"/><ellipse cx="581.28" cy="219.95" rx="1.75" ry="1.45" fill="#000080"/><ellipse cx="588.57" cy="213.74" rx="1.75" ry="1.45" fill="#000080"/><ellipse cx="595.86" cy="202.56" rx="1.75" ry="1.45" fill="#000080"/><ellipse cx="603.14" cy="186.00" rx="1.75" ry="1.45" fill="#000080"/><ellipse cx="610.42" cy="165.30" rx="1.75" ry="1.45" fill="#000080"/><ellipse cx="617.71" cy="142.94" rx="1.75" ry="1.45" fill="#000080"/><ellipse cx="625.00" cy="123.49" rx="1.75" ry="1.45" fill="#000080"/><ellipse cx="632.28" cy="107.34" rx="1.75" ry="1.45" fill="#000080"/><ellipse cx="639.57" cy="94.92" rx="1.75" ry="1.45" fill="#000080"/><ellipse cx="646.85" cy="87.05" rx="1.75" ry="1.45" fill="#000080"/><ellipse cx="654.13" cy="80.43" rx="1.75" ry="1.45" fill="#000080"/><ellipse cx="661.42" cy="75.88" rx="1.75" ry="1.45" fill="#000080"/><ellipse cx="668.70" cy="75.05" rx="1.75" ry="1.45" fill="#000080"/><ellipse cx="675.99" cy="75.46" rx="1.75" ry="1.45" fill="#000080"/><ellipse cx="683.27" cy="76.29" rx="1.75" ry="1.45" fill="#000080"/><ellipse cx="690.56" cy="77.12" rx="1.75" ry="1.45" fill="#000080"/><ellipse cx="697.85" cy="77.95" rx="1.75" ry="1.45" fill="#000080"/><ellipse cx="705.13" cy="78.36" rx="1.75" ry="1.45" fill="#000080"/><ellipse cx="712.41" cy="77.12" rx="1.75" ry="1.45" fill="#000080"/><ellipse cx="719.70" cy="75.88" rx="1.75" ry="1.45" fill="#000080"/><polyline points="428.30,227.40 435.59,227.40 442.87,227.40 450.16,227.40 457.44,227.40 464.73,227.40 472.01,227.40 479.30,227.40 486.58,227.40 493.87,227.40 501.15,227.40 508.44,227.40 515.72,227.40 523.00,227.40 530.29,227.40 537.58,227.40 544.86,227.40 552.14,227.40 559.43,227.40 566.72,226.93 574.00,225.74 581.28,222.43 588.57,217.05 595.86,208.77 603.14,195.11 610.42,176.89 617.71,154.95 625.00,130.94 632.28,112.31 639.57,96.16 646.85,84.16 654.13,74.63 661.42,66.35 668.70,59.32 675.99,54.76 683.27,51.45 690.56,47.31 697.85,43.17 705.13,38.62 712.41,31.58 719.70,26.20" fill="none" stroke="#a04848" stroke-width="1.4" stroke-linejoin="round"/><ellipse cx="428.30" cy="227.40" rx="1.75" ry="1.45" fill="#800000"/><ellipse cx="435.59" cy="227.40" rx="1.75" ry="1.45" fill="#800000"/><ellipse cx="442.87" cy="227.40" rx="1.75" ry="1.45" fill="#800000"/><ellipse cx="450.16" cy="227.40" rx="1.75" ry="1.45" fill="#800000"/><ellipse cx="457.44" cy="227.40" rx="1.75" ry="1.45" fill="#800000"/><ellipse cx="464.73" cy="227.40" rx="1.75" ry="1.45" fill="#800000"/><ellipse cx="472.01" cy="227.40" rx="1.75" ry="1.45" fill="#800000"/><ellipse cx="479.30" cy="227.40" rx="1.75" ry="1.45" fill="#800000"/><ellipse cx="486.58" cy="227.40" rx="1.75" ry="1.45" fill="#800000"/><ellipse cx="493.87" cy="227.40" rx="1.75" ry="1.45" fill="#800000"/><ellipse cx="501.15" cy="227.40" rx="1.75" ry="1.45" fill="#800000"/><ellipse cx="508.44" cy="227.40" rx="1.75" ry="1.45" fill="#800000"/><ellipse cx="515.72" cy="227.40" rx="1.75" ry="1.45" fill="#800000"/><ellipse cx="523.00" cy="227.40" rx="1.75" ry="1.45" fill="#800000"/><ellipse cx="530.29" cy="227.40" rx="1.75" ry="1.45" fill="#800000"/><ellipse cx="537.58" cy="227.40" rx="1.75" ry="1.45" fill="#800000"/><ellipse cx="544.86" cy="227.40" rx="1.75" ry="1.45" fill="#800000"/><ellipse cx="552.14" cy="227.40" rx="1.75" ry="1.45" fill="#800000"/><ellipse cx="559.43" cy="227.40" rx="1.75" ry="1.45" fill="#800000"/><ellipse cx="566.72" cy="226.93" rx="1.75" ry="1.45" fill="#800000"/><ellipse cx="574.00" cy="225.74" rx="1.75" ry="1.45" fill="#800000"/><ellipse cx="581.28" cy="222.43" rx="1.75" ry="1.45" fill="#800000"/><ellipse cx="588.57" cy="217.05" rx="1.75" ry="1.45" fill="#800000"/><ellipse cx="595.86" cy="208.77" rx="1.75" ry="1.45" fill="#800000"/><ellipse cx="603.14" cy="195.11" rx="1.75" ry="1.45" fill="#800000"/><ellipse cx="610.42" cy="176.89" rx="1.75" ry="1.45" fill="#800000"/><ellipse cx="617.71" cy="154.95" rx="1.75" ry="1.45" fill="#800000"/><ellipse cx="625.00" cy="130.94" rx="1.75" ry="1.45" fill="#800000"/><ellipse cx="632.28" cy="112.31" rx="1.75" ry="1.45" fill="#800000"/><ellipse cx="639.57" cy="96.16" rx="1.75" ry="1.45" fill="#800000"/><ellipse cx="646.85" cy="84.16" rx="1.75" ry="1.45" fill="#800000"/><ellipse cx="654.13" cy="74.63" rx="1.75" ry="1.45" fill="#800000"/><ellipse cx="661.42" cy="66.35" rx="1.75" ry="1.45" fill="#800000"/><ellipse cx="668.70" cy="59.32" rx="1.75" ry="1.45" fill="#800000"/><ellipse cx="675.99" cy="54.76" rx="1.75" ry="1.45" fill="#800000"/><ellipse cx="683.27" cy="51.45" rx="1.75" ry="1.45" fill="#800000"/><ellipse cx="690.56" cy="47.31" rx="1.75" ry="1.45" fill="#800000"/><ellipse cx="697.85" cy="43.17" rx="1.75" ry="1.45" fill="#800000"/><ellipse cx="705.13" cy="38.62" rx="1.75" ry="1.45" fill="#800000"/><ellipse cx="712.41" cy="31.58" rx="1.75" ry="1.45" fill="#800000"/><ellipse cx="719.70" cy="26.20" rx="1.75" ry="1.45" fill="#800000"/><polyline points="428.30,227.40 435.59,227.40 442.87,227.40 450.16,227.40 457.44,227.40 464.73,227.40 472.01,227.40 479.30,227.40 486.58,227.40 493.87,227.40 501.15,227.40 508.44,227.40 515.72,227.40 523.00,227.40 530.29,227.40 537.58,227.40 544.86,227.40 552.14,227.40 559.43,227.40 566.72,226.90 574.00,225.74 581.28,223.26 588.57,218.29 595.86,210.01 603.14,197.59 610.42,179.79 617.71,158.68 625.00,135.49 632.28,115.62 639.57,99.06 646.85,86.23 654.13,76.29 661.42,68.01 668.70,60.97 675.99,56.42 683.27,52.69 690.56,48.55 697.85,44.41 705.13,39.86 712.41,32.82 719.70,27.44" fill="none" stroke="#ff60f0" stroke-width="1.4" stroke-linejoin="round"/><polyline points="428.30,227.40 435.59,227.40 442.87,227.40 450.16,227.40 457.44,227.40 464.73,227.40 472.01,227.40 479.30,227.40 486.58,227.40 493.87,227.40 501.15,227.40 508.44,227.40 515.72,227.40 523.00,227.40 530.29,227.40 537.58,227.40 544.86,227.40 552.14,227.40 559.43,227.40 566.72,226.77 574.00,225.33 581.28,222.43 588.57,217.05 595.86,208.77 603.14,194.28 610.42,174.82 617.71,153.29 625.00,136.32 632.28,119.76 639.57,106.10 646.85,94.51 654.13,84.98 661.42,77.12 668.70,70.49 675.99,65.94 683.27,61.39 690.56,57.25 697.85,52.69 705.13,47.31 712.41,40.27 719.70,32.82" fill="none" stroke="#ff7080" stroke-width="1.4" stroke-linejoin="round"/><ellipse cx="428.30" cy="227.40" rx="1.75" ry="1.45" fill="#ff0000"/><ellipse cx="435.59" cy="227.40" rx="1.75" ry="1.45" fill="#ff0000"/><ellipse cx="442.87" cy="227.40" rx="1.75" ry="1.45" fill="#ff0000"/><ellipse cx="450.16" cy="227.40" rx="1.75" ry="1.45" fill="#ff0000"/><ellipse cx="457.44" cy="227.40" rx="1.75" ry="1.45" fill="#ff0000"/><ellipse cx="464.73" cy="227.40" rx="1.75" ry="1.45" fill="#ff0000"/><ellipse cx="472.01" cy="227.40" rx="1.75" ry="1.45" fill="#ff0000"/><ellipse cx="479.30" cy="227.40" rx="1.75" ry="1.45" fill="#ff0000"/><ellipse cx="486.58" cy="227.40" rx="1.75" ry="1.45" fill="#ff0000"/><ellipse cx="493.87" cy="227.40" rx="1.75" ry="1.45" fill="#ff0000"/><ellipse cx="501.15" cy="227.40" rx="1.75" ry="1.45" fill="#ff0000"/><ellipse cx="508.44" cy="227.40" rx="1.75" ry="1.45" fill="#ff0000"/><ellipse cx="515.72" cy="227.40" rx="1.75" ry="1.45" fill="#ff0000"/><ellipse cx="523.00" cy="227.40" rx="1.75" ry="1.45" fill="#ff0000"/><ellipse cx="530.29" cy="227.40" rx="1.75" ry="1.45" fill="#ff0000"/><ellipse cx="537.58" cy="227.40" rx="1.75" ry="1.45" fill="#ff0000"/><ellipse cx="544.86" cy="227.40" rx="1.75" ry="1.45" fill="#ff0000"/><ellipse cx="552.14" cy="227.40" rx="1.75" ry="1.45" fill="#ff0000"/><ellipse cx="559.43" cy="227.40" rx="1.75" ry="1.45" fill="#ff0000"/><ellipse cx="566.72" cy="226.77" rx="1.75" ry="1.45" fill="#ff0000"/><ellipse cx="574.00" cy="225.33" rx="1.75" ry="1.45" fill="#ff0000"/><ellipse cx="581.28" cy="222.43" rx="1.75" ry="1.45" fill="#ff0000"/><ellipse cx="588.57" cy="217.05" rx="1.75" ry="1.45" fill="#ff0000"/><ellipse cx="595.86" cy="208.77" rx="1.75" ry="1.45" fill="#ff0000"/><ellipse cx="603.14" cy="194.28" rx="1.75" ry="1.45" fill="#ff0000"/><ellipse cx="610.42" cy="174.82" rx="1.75" ry="1.45" fill="#ff0000"/><ellipse cx="617.71" cy="153.29" rx="1.75" ry="1.45" fill="#ff0000"/><ellipse cx="625.00" cy="136.32" rx="1.75" ry="1.45" fill="#ff0000"/><ellipse cx="632.28" cy="119.76" rx="1.75" ry="1.45" fill="#ff0000"/><ellipse cx="639.57" cy="106.10" rx="1.75" ry="1.45" fill="#ff0000"/><ellipse cx="646.85" cy="94.51" rx="1.75" ry="1.45" fill="#ff0000"/><ellipse cx="654.13" cy="84.98" rx="1.75" ry="1.45" fill="#ff0000"/><ellipse cx="661.42" cy="77.12" rx="1.75" ry="1.45" fill="#ff0000"/><ellipse cx="668.70" cy="70.49" rx="1.75" ry="1.45" fill="#ff0000"/><ellipse cx="675.99" cy="65.94" rx="1.75" ry="1.45" fill="#ff0000"/><ellipse cx="683.27" cy="61.39" rx="1.75" ry="1.45" fill="#ff0000"/><ellipse cx="690.56" cy="57.25" rx="1.75" ry="1.45" fill="#ff0000"/><ellipse cx="697.85" cy="52.69" rx="1.75" ry="1.45" fill="#ff0000"/><ellipse cx="705.13" cy="47.31" rx="1.75" ry="1.45" fill="#ff0000"/><ellipse cx="712.41" cy="40.27" rx="1.75" ry="1.45" fill="#ff0000"/><ellipse cx="719.70" cy="32.82" rx="1.75" ry="1.45" fill="#ff0000"/><ellipse cx="610.42" cy="176.89" rx="1.75" ry="1.45" fill="#800000"/><ellipse cx="617.71" cy="154.95" rx="1.75" ry="1.45" fill="#800000"/><ellipse cx="625.00" cy="130.94" rx="1.75" ry="1.45" fill="#800000"/><ellipse cx="632.28" cy="112.31" rx="1.75" ry="1.45" fill="#800000"/><ellipse cx="639.57" cy="96.16" rx="1.75" ry="1.45" fill="#800000"/><ellipse cx="646.85" cy="84.16" rx="1.75" ry="1.45" fill="#800000"/><ellipse cx="654.13" cy="74.63" rx="1.75" ry="1.45" fill="#800000"/><ellipse cx="661.42" cy="66.35" rx="1.75" ry="1.45" fill="#800000"/><ellipse cx="668.70" cy="59.32" rx="1.75" ry="1.45" fill="#800000"/><ellipse cx="675.99" cy="54.76" rx="1.75" ry="1.45" fill="#800000"/><ellipse cx="683.27" cy="51.45" rx="1.75" ry="1.45" fill="#800000"/><ellipse cx="690.56" cy="47.31" rx="1.75" ry="1.45" fill="#800000"/><ellipse cx="697.85" cy="43.17" rx="1.75" ry="1.45" fill="#800000"/><ellipse cx="705.13" cy="38.62" rx="1.75" ry="1.45" fill="#800000"/><ellipse cx="712.41" cy="31.58" rx="1.75" ry="1.45" fill="#800000"/><ellipse cx="719.70" cy="26.20" rx="1.75" ry="1.45" fill="#800000"/></g>
<line x1="475.8" y1="65.10" x2="497.1" y2="65.10" stroke="#808080" stroke-opacity="0.7" stroke-width="2.0"/>
<ellipse cx="485.8" cy="65.10" rx="1.9" ry="1.7" fill="#000000"/>
<text x="499.8" y="68.80" class="lgb">SM_CONE (TR=0.8)</text>
<line x1="475.8" y1="77.25" x2="497.1" y2="77.25" stroke="#ff6060" stroke-opacity="0.7" stroke-width="2.0"/>
<ellipse cx="485.8" cy="77.25" rx="1.9" ry="1.7" fill="#ff0000"/>
<text x="499.8" y="80.95" class="lgb">SM_CONE (TR=0.98)</text>
<line x1="475.8" y1="89.40" x2="497.1" y2="89.40" stroke="#5050ff" stroke-opacity="0.7" stroke-width="2.0"/>
<ellipse cx="485.8" cy="89.40" rx="1.9" ry="1.7" fill="#0000ff"/>
<text x="499.8" y="93.10" class="lgb">SM_CYLINDER (TR=1)</text>
<line x1="475.8" y1="101.55" x2="497.1" y2="101.55" stroke="#50b0b0" stroke-opacity="0.7" stroke-width="2.0"/>
<ellipse cx="485.8" cy="101.55" rx="1.9" ry="1.7" fill="#008080"/>
<text x="499.8" y="105.25" class="lgb">DM_CONE (TR=0.8)</text>
<line x1="475.8" y1="113.70" x2="497.1" y2="113.70" stroke="#ff60f0" stroke-opacity="0.7" stroke-width="2.0"/>
<ellipse cx="485.8" cy="113.70" rx="1.9" ry="1.7" fill="#ff00ff"/>
<text x="499.8" y="117.40" class="lgb">DM_CONE (TR=0.98)</text>
<line x1="475.8" y1="125.85" x2="497.1" y2="125.85" stroke="#a0a050" stroke-opacity="0.7" stroke-width="2.0"/>
<ellipse cx="485.8" cy="125.85" rx="1.9" ry="1.7" fill="#808000"/>
<text x="499.8" y="129.55" class="lgb">DM_CYLINDER(TR=1)</text>
<line x1="475.8" y1="138.00" x2="497.1" y2="138.00" stroke="#7070e0" stroke-opacity="0.7" stroke-width="2.0"/>
<ellipse cx="485.8" cy="138.00" rx="1.9" ry="1.7" fill="#000080"/>
<text x="499.8" y="141.70" class="lgb">TM CONE<tspan dx="1.6">(TR=0.8)</tspan></text>
<rect x="515.6" y="143.60" width="2" height="1.1" fill="#333"/>
<line x1="475.8" y1="150.15" x2="497.1" y2="150.15" stroke="#a04848" stroke-opacity="0.7" stroke-width="2.0"/>
<ellipse cx="485.8" cy="150.15" rx="1.9" ry="1.7" fill="#800000"/>
<text x="499.8" y="153.85" class="lgb">TM CONE (TR=0.98)</text>
<rect x="515.6" y="155.75" width="2" height="1.1" fill="#333"/>
<line x1="475.8" y1="162.30" x2="497.1" y2="162.30" stroke="#ff7080" stroke-opacity="0.7" stroke-width="2.0"/>
<ellipse cx="485.8" cy="162.30" rx="1.9" ry="1.7" fill="#ff0000"/>
<text x="499.8" y="166.00" class="lgb">TM CYLINDER (TR=1)</text>
<rect x="515.6" y="167.90" width="2" height="1.1" fill="#333"/>
<text x="618.8" y="214.5" class="an2" textLength="37.5" lengthAdjust="spacingAndGlyphs">V<tspan class="asub2" dy="4.5">ds</tspan><tspan dy="-4.5">=1V</tspan></text>
<text x="617.8" y="232.9" class="an2" textLength="100.3" lengthAdjust="spacingAndGlyphs">L<tspan class="asub2" dy="4.5">g</tspan><tspan dy="-4.5">=60nm,t</tspan><tspan class="asub2" dy="4.5">ox</tspan><tspan dy="-4.5">=2nm</tspan></text>
</svg></body></html>
